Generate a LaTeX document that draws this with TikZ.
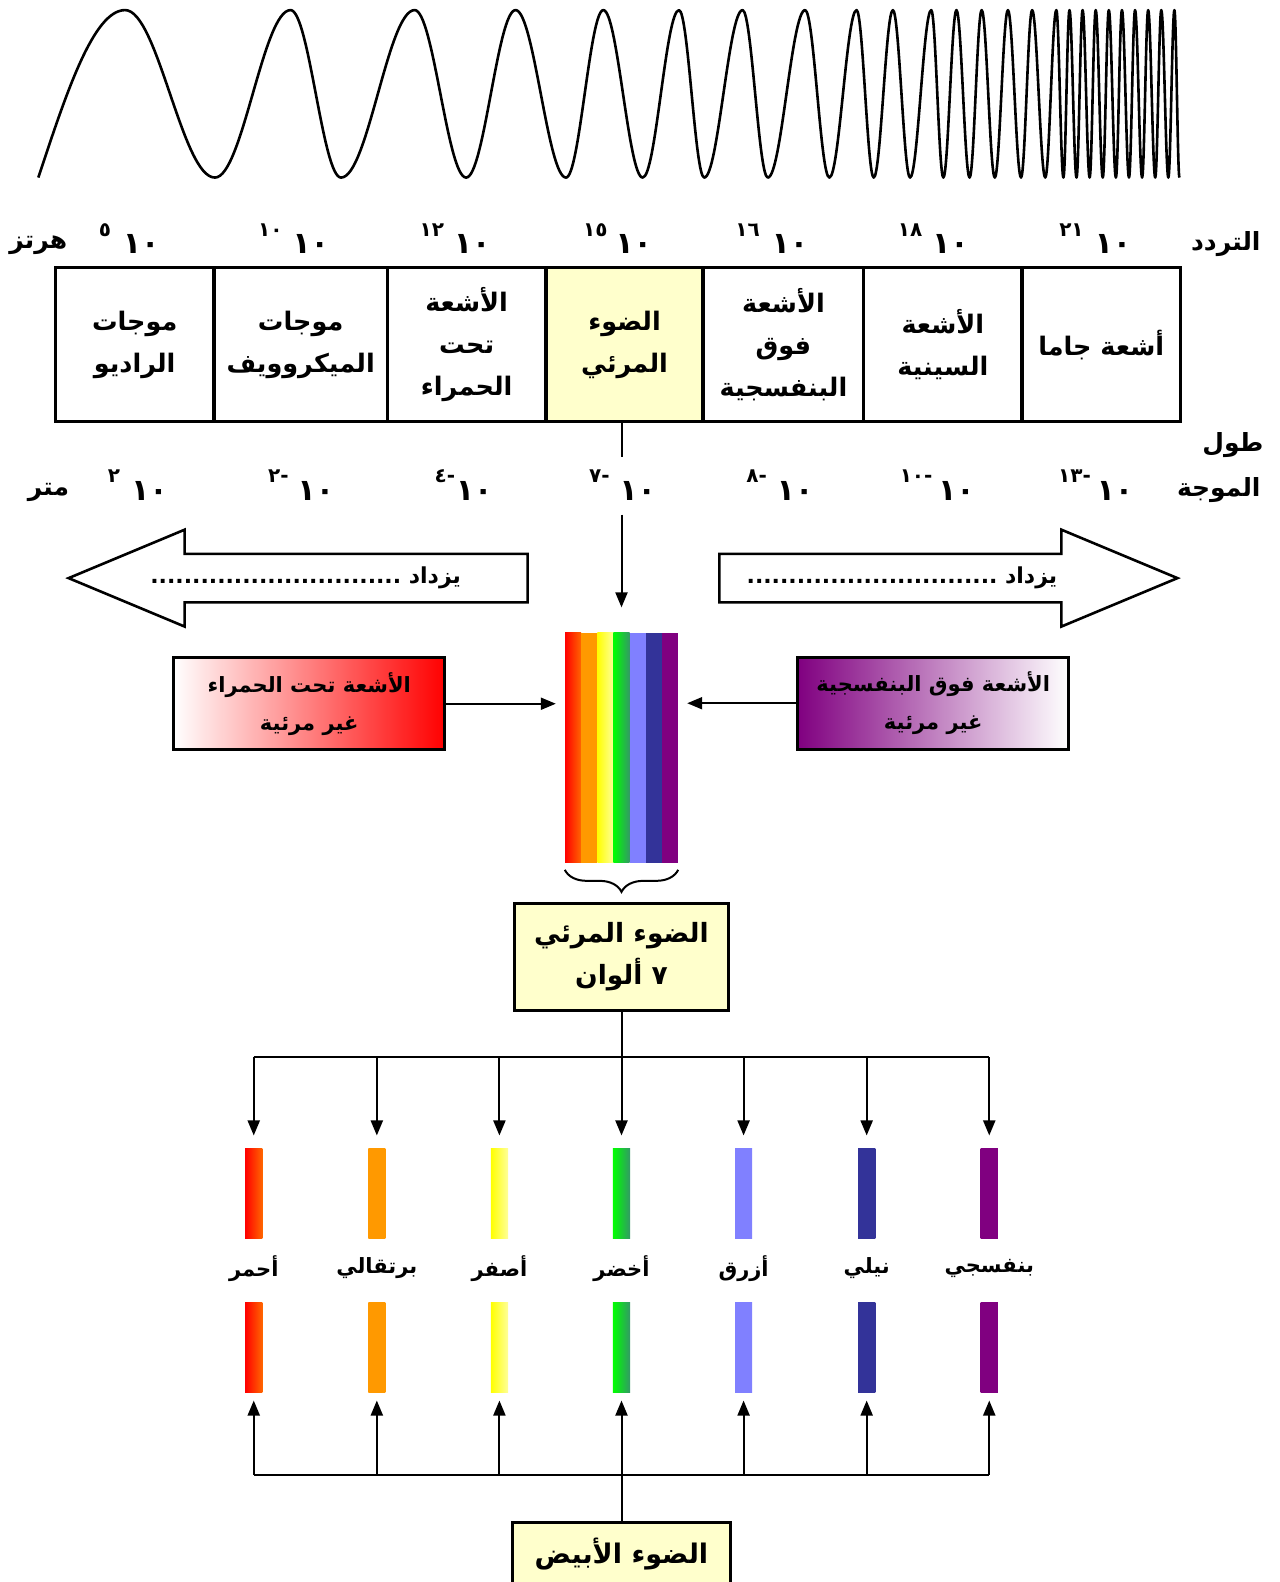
\documentclass[tikz,border=0pt]{standalone}
\usepackage{fontspec}
\usetikzlibrary{arrows.meta,decorations.pathreplacing}
\TeXXeTstate=1
\newfontfamily\arabicfont[Script=Arabic]{DejaVu Sans}
\newcommand{\AR}[1]{\beginR #1\endR}
\definecolor{cRed}{HTML}{FF0000}
\definecolor{cRedR}{HTML}{FF6600}
\definecolor{cOrange}{HTML}{FF9900}
\definecolor{cYellow}{HTML}{FFFF00}
\definecolor{cYellowR}{HTML}{FFFF99}
\definecolor{cGreen}{HTML}{00FF00}
\definecolor{cGreenR}{HTML}{339966}
\definecolor{cBlue}{HTML}{8080FF}
\definecolor{cIndigo}{HTML}{333399}
\definecolor{cViolet}{HTML}{800080}
\definecolor{cPale}{HTML}{FFFFCC}
\tikzset{
  wave/.style={line width=2.6pt, line join=round},
  cell/.style={draw, line width=3.5pt, minimum height=153*1.0087pt, inner sep=0pt,
    align=center, font=\arabicfont\bfseries\fontsize{25.5}{42}\selectfont},
  rowlbl/.style={inner sep=0pt, font=\arabicfont\bfseries\fontsize{25}{30}\selectfont},
  numtxt/.style={inner sep=0pt, font=\arabicfont\bfseries\fontsize{30}{32}\selectfont},
  suptxt/.style={inner sep=0pt, font=\arabicfont\bfseries\fontsize{20}{22}\selectfont},
  bigarr/.style={draw, line width=2.6pt, fill=white, line join=miter},
  arrtxt/.style={inner sep=0pt, font=\arabicfont\bfseries\fontsize{22}{26}\selectfont},
  infobox/.style={draw, line width=3pt, minimum width=269*1.0087pt, minimum height=91*1.0087pt,
    align=center, font=\arabicfont\bfseries\fontsize{21}{38}\selectfont},
  visbox/.style={draw, line width=3pt, fill=cPale, minimum width=213*1.0087pt,
    minimum height=107*1.0087pt, align=center,
    font=\arabicfont\bfseries\fontsize{26.5}{42}\selectfont},
  bar/.style={inner sep=0pt, minimum width=17*1.0087pt, minimum height=89*1.0087pt},
  clrtxt/.style={inner sep=0pt, font=\arabicfont\bfseries\fontsize{21}{26}\selectfont},
  plain/.style={line width=2pt},
  conn/.style={line width=2pt, -{Triangle[length=15pt,width=12pt]}},
  bracestyle/.style={line width=2pt, decorate, decoration={brace, amplitude=22pt, aspect=0.5}},
}
\begin{document}
\begin{tikzpicture}[x=1.0087pt, y=-1.0087pt]
\useasboundingbox (0,0) rectangle (1268,1568);
\fill[white] (0,0) rectangle (1268,1568);

% chirped wave: frequency grows from left to right
\draw[wave] (38,176) sin (124,10) \foreach \xx/\yy [remember=\xx as \px (initially 124)] in
 {213/176,288/10,338/176,411/10,462/176,511/10,561/176,598/10,637/176,673/10,
  698/176,736/10,761/176,798/10,822/176,849/10,866/176,885/10,902/176,923/10,
  935/176,948/10,961/176,973/10,986/176,999/10,1012/176,1023/10,1036/176,1047/10,
  1054/176,1060/10,1067/176,1073/10,1080/176,1086/10,1093/176,1099/10,1106/176,
  1112/10,1119/176,1125/10,1132/176,1138/10,1145/176,1151/10,1158/176,1164/10,1169/176}
 { cos ({(\px+\xx)/2},93) sin (\xx,\yy) };

% frequency scale
\node[rowlbl] (hz) at (38,243) {\AR{هرتز}};
\node[rowlbl] (freq) at (1215,242) {\AR{التردد}};
\foreach \n/\bx/\sx/\ex in {f1/140/104/٥, f2/308/268/١٠, f3/468/428/١٢, f4/628/590/١٥,
  f5/783/741/١٦, f6/942/902/١٨, f7/1103/1062/٢١} {
  \node[numtxt] (\n) at (\bx,242) {١٠};
  \node[suptxt] (\n s) at (\sx,228) {\ex};
}

% wavelength scale
\node[rowlbl] (metre) at (48,488) {\AR{متر}};
\node[rowlbl] (wl1) at (1222,441) {\AR{طول}};
\node[rowlbl] (wl2) at (1208,486) {\AR{الموجة}};
\foreach \n/\bx/\sx/\ex in {w1/148/113/٢, w2/313/276/-٢, w3/470/441/-٤, w4/632/594/-٧,
  w5/788/750/-٨, w6/948/908/-١٠, w7/1105/1065/-١٣} {
  \node[numtxt] (\n) at (\bx,487) {١٠};
  \node[suptxt] (\n s) at (\sx,472) {\ex};
}

% band of the spectrum
\node[cell, minimum width=157*1.0087pt] (c1) at (133.5,341.5) {\AR{موجات}\\\AR{الراديو}};
\node[cell, minimum width=172*1.0087pt] (c2) at (298,341.5) {\AR{موجات}\\\AR{الميكروويف}};
\node[cell, minimum width=157*1.0087pt] (c3) at (462.5,341.5) {\AR{الأشعة}\\\AR{تحت}\\\AR{الحمراء}};
\node[cell, minimum width=156*1.0087pt, fill=cPale] (c4) at (619,341.5) {\AR{الضوء}\\\AR{المرئي}};
\node[cell, minimum width=159*1.0087pt] (c5) at (776.5,341.5) {\AR{الأشعة}\\\AR{فوق}\\\AR{البنفسجية}};
\node[cell, minimum width=157*1.0087pt] (c6) at (934.5,341.5) {\AR{الأشعة}\\\AR{السينية}};
\node[cell, minimum width=157*1.0087pt] (c7) at (1091.5,341.5) {\AR{أشعة جاما}};

% direction arrows
\draw[bigarr] (68,573) -- (183,525) -- (183,549) -- (523,549) -- (523,597) -- (183,597) -- (183,621) -- cycle;
\draw[bigarr] (713,549) -- (1052,549) -- (1052,525) -- (1167,573) -- (1052,621) -- (1052,597) -- (713,597) -- cycle;
\node[arrtxt, anchor=east] (incL) at (457,573) {\AR{يزداد ..............................}};
\node[arrtxt, anchor=east] (incR) at (1048,573) {\AR{يزداد ..............................}};

% visible spectrum strip
\shade[left color=cRed, right color=cRedR] (560,627) rectangle (576,855);
\fill[cOrange] (576,627) rectangle (592,855);
\shade[left color=cYellow, right color=cYellowR] (592,627) rectangle (608,855);
\shade[left color=cGreen, right color=cGreenR] (608,627) rectangle (624,855);
\fill[cBlue] (624,627) rectangle (640,855);
\fill[cIndigo] (640,627) rectangle (656,855);
\fill[cViolet] (656,627) rectangle (672,855);
\node[inner sep=0pt, minimum width=112*1.0087pt, minimum height=228*1.0087pt] (rain) at (616,741) {};

\coordinate (vA) at (616,418);
\coordinate (vB) at (616,453);
\coordinate (vC) at (616,510);
\draw[plain] (vA) -- (vB);
\draw[conn, shorten >=25pt] (vC) -- (rain.north);

% invisible neighbours
\node[infobox, left color=white, right color=cRed] (ir) at (306.5,697.5)
  {\AR{الأشعة تحت الحمراء}\\\AR{غير مرئية}};
\node[infobox, left color=cViolet, right color=white] (uv) at (925,697)
  {\AR{الأشعة فوق البنفسجية}\\\AR{غير مرئية}};
\draw[conn, shorten >=9pt] (ir.east) -- (ir.east -| rain.west);
\draw[conn, shorten >=9pt] (uv.west) -- (uv.west -| rain.east);

% brace and the seven colours
\draw[bracestyle] ([yshift=-7pt]rain.south east) -- ([yshift=-7pt]rain.south west);
\node[visbox] (vis) at (616,948.5) {\AR{الضوء المرئي}\\\AR{٧ ألوان}};

\foreach \i/\x/\cl/\cr/\name in {1/251.5/cRed/cRedR/أحمر, 2/373.5/cOrange/cOrange/برتقالي,
  3/495/cYellow/cYellowR/أصفر, 4/616/cGreen/cGreenR/أخضر, 5/737/cBlue/cBlue/أزرق,
  6/859/cIndigo/cIndigo/نيلي, 7/980.5/cViolet/cViolet/بنفسجي} {
  \node[bar, left color=\cl, right color=\cr] (ub\i) at (\x,1183) {};
  \node[bar, left color=\cl, right color=\cr] (lb\i) at (\x,1335.5) {};
  \node[clrtxt] (t\i) at (\x,1257) {\AR{\name}};
  \coordinate (tb\i) at (\x,1048);
  \coordinate (bb\i) at (\x,1462);
}
\draw[plain] (tb1) -- (tb7);
\foreach \i in {1,2,3,5,6,7} \draw[conn, shorten >=13pt] (tb\i) -- (ub\i.north);
\draw[conn, shorten >=13pt] (vis.south) -- (ub4.north);

% white light
\node[draw, line width=3pt, fill=cPale, anchor=north, minimum width=216*1.0087pt,
  inner sep=8pt, text height=33pt, text depth=60pt,
  font=\arabicfont\bfseries\fontsize{27}{32}\selectfont] (white) at (616,1508) {\AR{الضوء الأبيض}};
\draw[plain] (bb1) -- (bb7);
\foreach \i in {1,2,3,5,6,7} \draw[conn, shorten >=8pt] (bb\i) -- (lb\i.south);
\draw[conn, shorten >=8pt] (white.north) -- (lb4.south);
\end{tikzpicture}
\end{document}
